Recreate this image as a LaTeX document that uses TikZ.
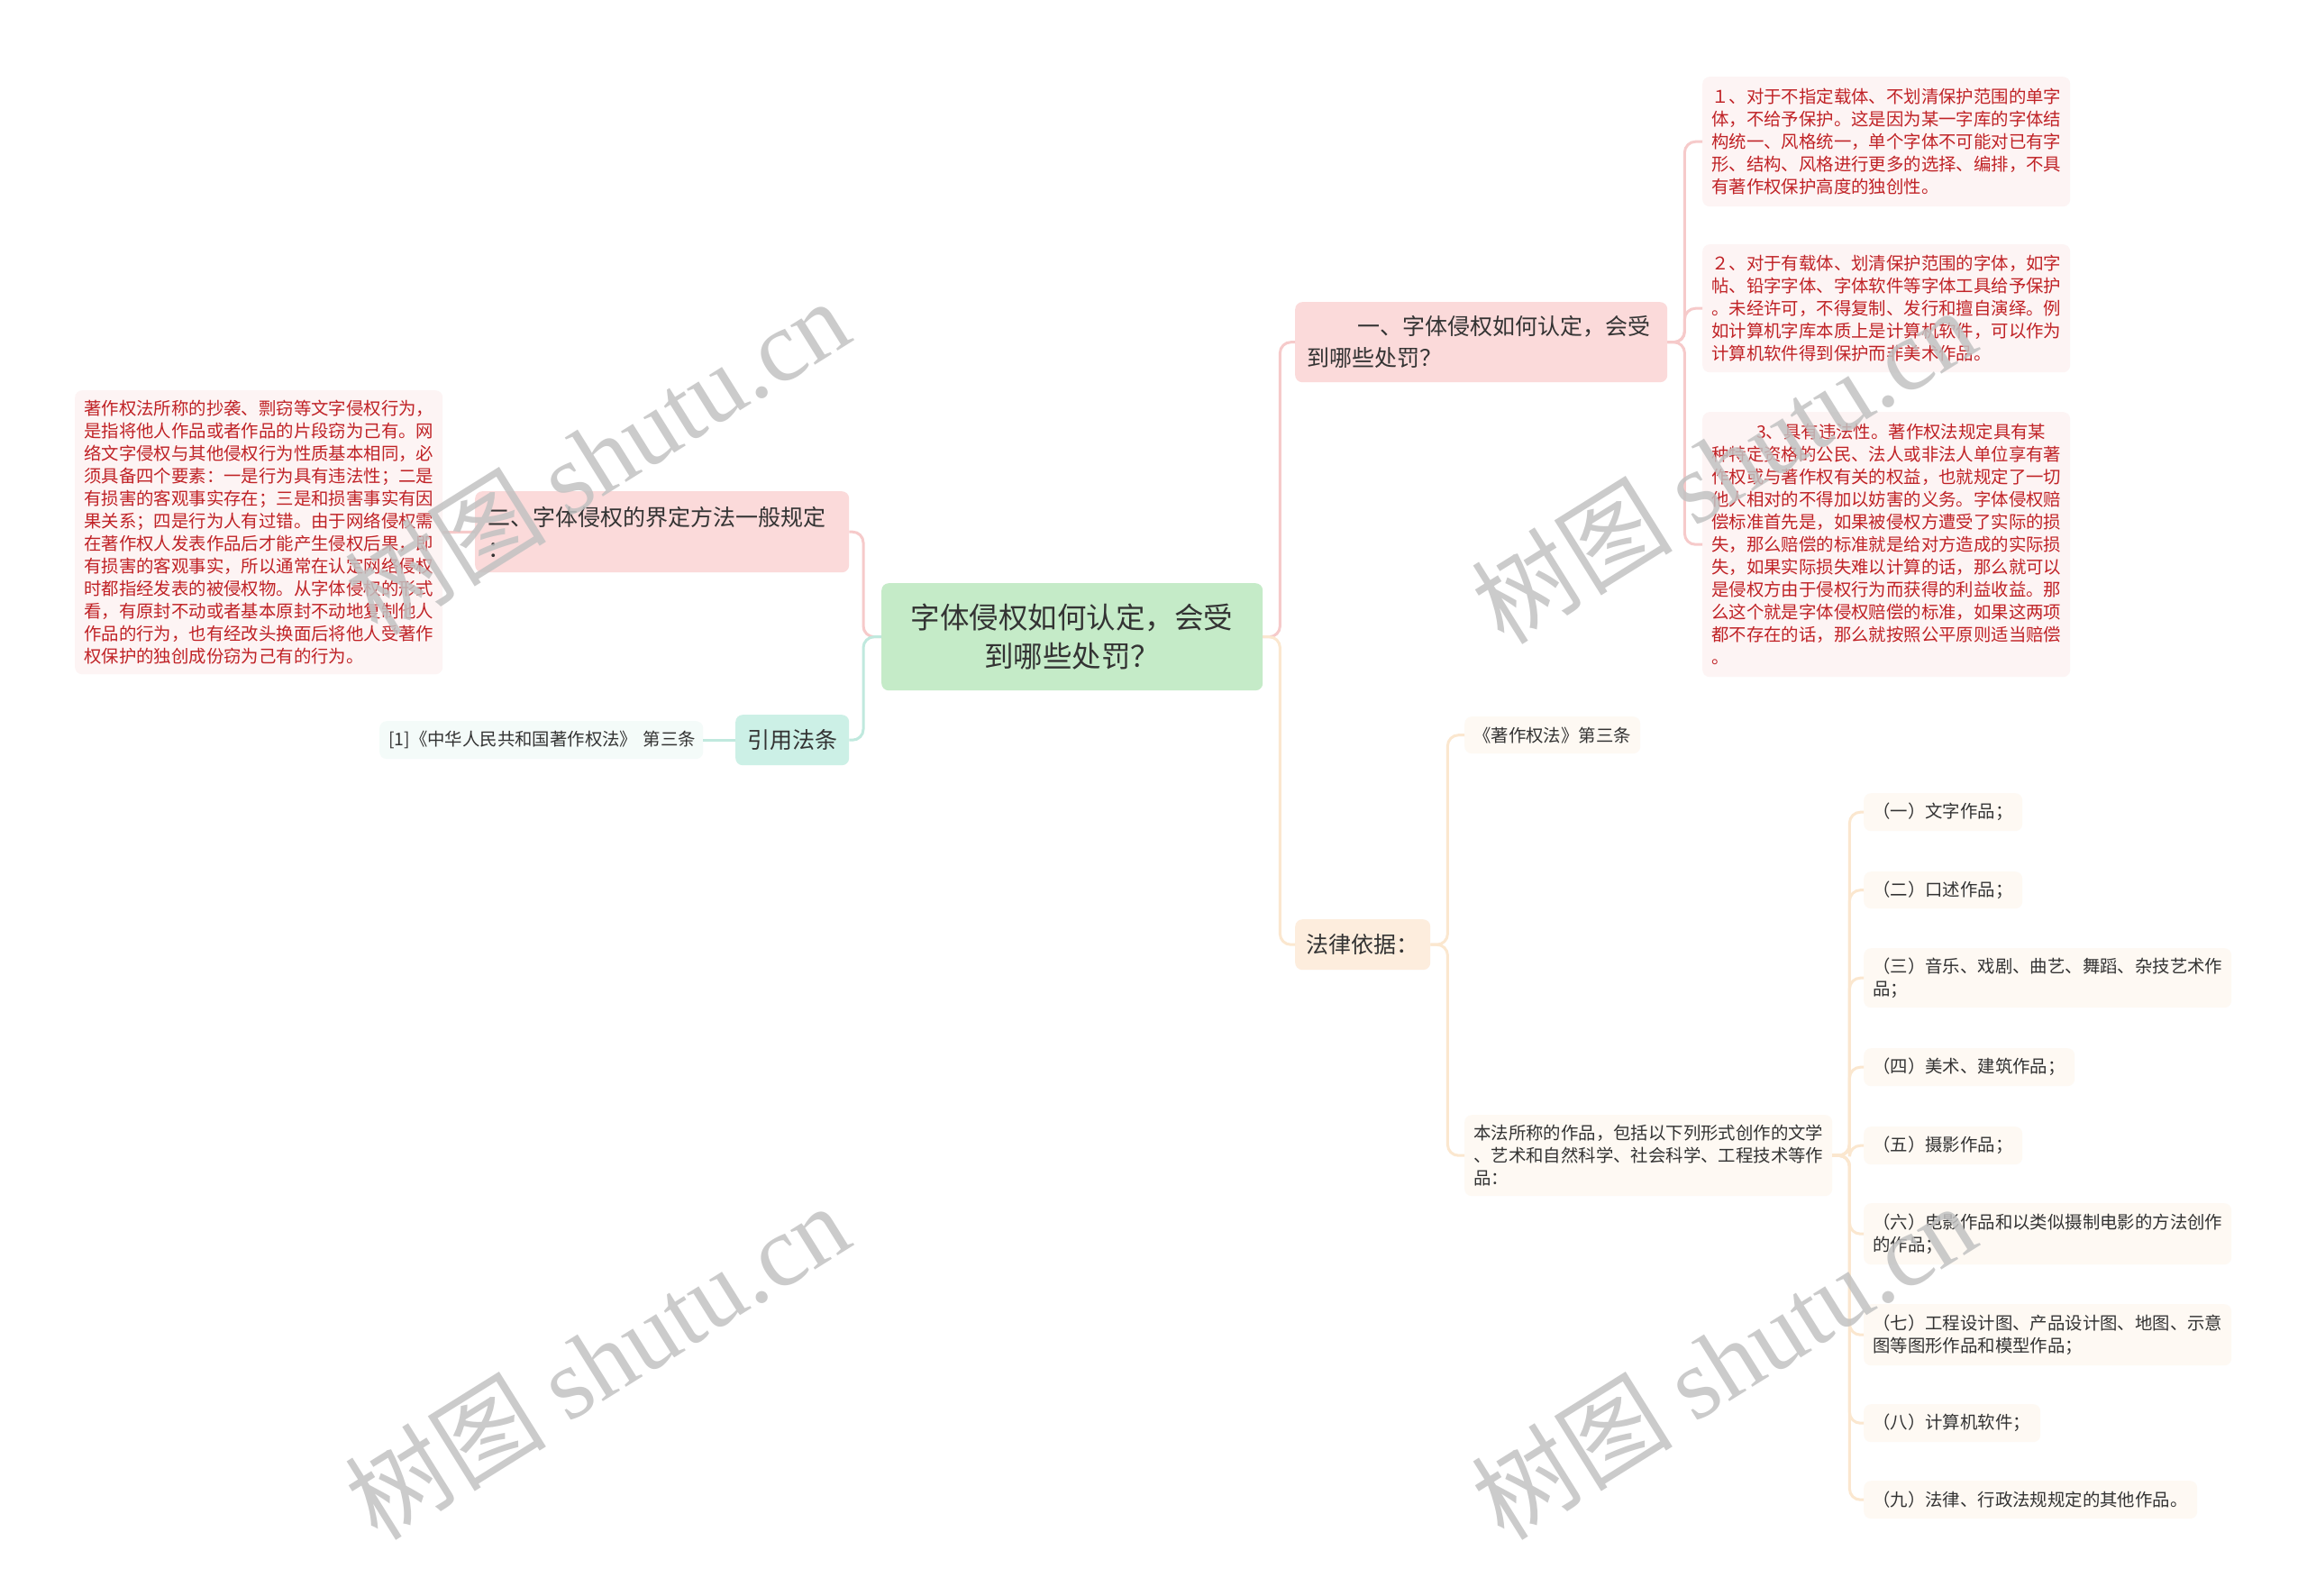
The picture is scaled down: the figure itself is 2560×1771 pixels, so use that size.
\documentclass[tikz,border=0pt]{standalone}
\usepackage{fontspec}
\setmainfont{Noto Sans CJK SC}
\newfontfamily\wmserif{Liberation Serif}
\definecolor{txt}{RGB}{51,51,51}
\definecolor{redtxt}{RGB}{192,34,38}
\definecolor{cgreen}{RGB}{197,235,200}
\definecolor{pinkbox}{RGB}{251,218,218}
\definecolor{pinklight}{RGB}{253,244,244}
\definecolor{tealbox}{RGB}{204,240,230}
\definecolor{teallight}{RGB}{244,251,249}
\definecolor{peachbox}{RGB}{253,237,221}
\definecolor{peachlight}{RGB}{254,249,243}
\definecolor{cpink}{RGB}{246,202,202}
\definecolor{cteal}{RGB}{192,233,222}
\definecolor{cpeach}{RGB}{251,231,207}
\begin{document}
\begin{tikzpicture}[x=1pt,y=-1pt,
  bx/.style={anchor=north west, rounded corners=8pt, inner xsep=10pt, inner ysep=0pt, align=left, text=txt},
  sm/.style={font=\fontsize{19.4}{25}\selectfont},
  md/.style={font=\fontsize{25}{35}\selectfont},
  conn/.style={line width=3pt, rounded corners=12pt},
  wm/.style={rotate=32, text=black!24, opacity=0.85, font=\fontsize{112}{112}\selectfont}
]
\fill[white] (0,0) rectangle (2560,1771);
\useasboundingbox (0,0) rectangle (2560,1771);

% root
\node[anchor=north west, rounded corners=8pt, fill=cgreen, minimum width=423pt, minimum height=119pt,
  align=center, inner sep=0pt, text=txt, font=\fontsize{32.5}{43}\selectfont] (root) at (978,647)
  {字体侵权如何认定，会受\\到哪些处罚？};

% left branch
\node[bx, md, fill=pinkbox, inner xsep=14pt, text width=387pt, minimum height=90pt] (b2) at (527,545)
  {二、字体侵权的界定方法一般规定\\：};
\node[bx, sm, fill=pinklight, text=redtxt, text width=388pt, minimum height=315pt] (lred) at (83,433)
  {著作权法所称的抄袭、剽窃等文字侵权行为，\\
   是指将他人作品或者作品的片段窃为己有。网\\
   络文字侵权与其他侵权行为性质基本相同，必\\
   须具备四个要素：一是行为具有违法性；二是\\
   有损害的客观事实存在；三是和损害事实有因\\
   果关系；四是行为人有过错。由于网络侵权需\\
   在著作权人发表作品后才能产生侵权后果，即\\
   有损害的客观事实，所以通常在认定网络侵权\\
   时都指经发表的被侵权物。从字体侵权的形式\\
   看，有原封不动或者基本原封不动地复制他人\\
   作品的行为，也有经改头换面后将他人受著作\\
   权保护的独创成份窃为己有的行为。};
\node[bx, md, fill=tealbox, inner xsep=13pt, text width=100pt, minimum height=56pt] (cite) at (816,793) {引用法条};
\node[bx, sm, fill=teallight, text width=339pt, minimum height=42pt] (ref) at (421,800)
  {\mbox{[1]《中华人民共和国著作权法》 第三条}};

% right top branch
\node[bx, md, fill=pinkbox, inner xsep=13pt, text width=387pt, minimum height=89pt] (one) at (1437,335)
  {\hspace*{56pt}一、字体侵权如何认定，会受\\到哪些处罚？};
\node[bx, sm, fill=pinklight, text=redtxt, text width=388pt, minimum height=144pt] (c1) at (1889,85)
  {１、对于不指定载体、不划清保护范围的单字\\
   体，不给予保护。这是因为某一字库的字体结\\
   构统一、风格统一，单个字体不可能对已有字\\
   形、结构、风格进行更多的选择、编排，不具\\
   有著作权保护高度的独创性。};
\node[bx, sm, fill=pinklight, text=redtxt, text width=388pt, minimum height=142pt] (c2) at (1889,271)
  {２、对于有载体、划清保护范围的字体，如字\\
   帖、铅字字体、字体软件等字体工具给予保护\\
   。未经许可，不得复制、发行和擅自演绎。例\\
   如计算机字库本质上是计算机软件，可以作为\\
   计算机软件得到保护而非美术作品。};
\node[bx, sm, fill=pinklight, text=redtxt, text width=388pt, minimum height=294pt] (c3) at (1889,457)
  {\hspace*{50pt}3、具有违法性。著作权法规定具有某\\
   种特定资格的公民、法人或非法人单位享有著\\
   作权或与著作权有关的权益，也就规定了一切\\
   他人相对的不得加以妨害的义务。字体侵权赔\\
   偿标准首先是，如果被侵权方遭受了实际的损\\
   失，那么赔偿的标准就是给对方造成的实际损\\
   失，如果实际损失难以计算的话，那么就可以\\
   是侵权方由于侵权行为而获得的利益收益。那\\
   么这个就是字体侵权赔偿的标准，如果这两项\\
   都不存在的话，那么就按照公平原则适当赔偿\\
   。};

% right bottom branch
\node[bx, md, fill=peachbox, inner xsep=12pt, text width=126pt, minimum height=56pt] (law) at (1437,1020) {法律依据：};
\node[bx, sm, fill=peachlight, text width=175pt, minimum height=41pt] (zz) at (1625,795) {《著作权法》第三条};
\node[bx, sm, fill=peachlight, text width=388pt, minimum height=90pt] (bf) at (1625,1237)
  {本法所称的作品，包括以下列形式创作的文学\\、艺术和自然科学、社会科学、工程技术等作\\品：};
\node[bx, sm, fill=peachlight, text width=156pt, minimum height=42pt] (i1) at (2068,880) {（一）文字作品；};
\node[bx, sm, fill=peachlight, text width=156pt, minimum height=41pt] (i2) at (2068,967) {（二）口述作品；};
\node[bx, sm, fill=peachlight, text width=388pt, minimum height=66pt] (i3) at (2068,1052) {（三）音乐、戏剧、曲艺、舞蹈、杂技艺术作\\品；};
\node[bx, sm, fill=peachlight, text width=214pt, minimum height=42pt] (i4) at (2068,1163) {（四）美术、建筑作品；};
\node[bx, sm, fill=peachlight, text width=156pt, minimum height=42pt] (i5) at (2068,1250) {（五）摄影作品；};
\node[bx, sm, fill=peachlight, text width=388pt, minimum height=68pt] (i6) at (2068,1335) {（六）电影作品和以类似摄制电影的方法创作\\的作品；};
\node[bx, sm, fill=peachlight, text width=388pt, minimum height=68pt] (i7) at (2068,1447) {（七）工程设计图、产品设计图、地图、示意\\图等图形作品和模型作品；};
\node[bx, sm, fill=peachlight, text width=176pt, minimum height=42pt] (i8) at (2068,1558) {（八）计算机软件；};
\node[bx, sm, fill=peachlight, text width=350pt, minimum height=42pt] (i9) at (2068,1643) {（九）法律、行政法规规定的其他作品。};

% connectors
\draw[conn, cpink] (root.west) -- ++(-20,0) |- (b2.east);
\draw[conn, cteal] (root.west) -- ++(-20,0) |- (cite.east);
\draw[conn, cpink] (b2.west) -- (lred.east);
\draw[conn, cteal] (cite.west) -- (ref.east);
\draw[conn, cpink] (root.east) -- ++(19,0) |- (one.west);
\draw[conn, cpeach] (root.east) -- ++(19,0) |- (law.west);
\foreach \c in {c1,c2,c3} \draw[conn, cpink] (one.east) -- ++(19,0) |- (\c.west);
\foreach \c in {zz,bf} \draw[conn, cpeach] (law.east) -- ++(19,0) |- (\c.west);
\foreach \c in {i1,i2,i3,i4,i5,i6,i7,i8,i9} \draw[conn, cpeach] (bf.east) -- ++(19,0) |- (\c.west);

% watermarks
\node[wm] (w1) at (662,506) {树图 {\wmserif shutu.cn}};
\node[wm] (w2) at (662,1510) {树图 {\wmserif shutu.cn}};
\node[wm] (w3) at (1912,516) {树图 {\wmserif shutu.cn}};
\node[wm] (w4) at (1912,1510) {树图 {\wmserif shutu.cn}};
\end{tikzpicture}
\end{document}
